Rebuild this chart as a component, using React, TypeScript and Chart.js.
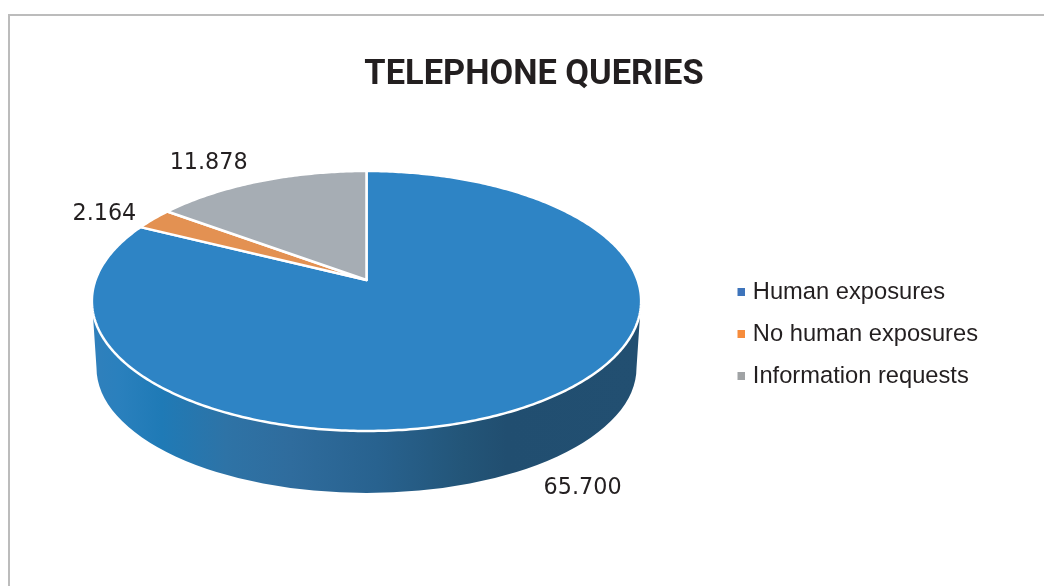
import React, { useEffect, useRef } from "react";
import { Chart, registerables } from "chart.js";

Chart.register(...registerables);

const categories = ["Human exposures", "No human exposures", "Information requests"];
const values = [65700, 2164, 11878];
const valueLabels = ["65.700", "2.164", "11.878"];
const sliceColors = ["#2e84c5", "#e39152", "#a6adb4"];
const legendColors = ["#3e74bb", "#f68c3c", "#a0a3a5"];
const labelOffsets = [[51, 83], [-49, -5], [-51, -18]];
const titleText = "TELEPHONE QUERIES";

const TEXT = "#231f20";
const FONT = "'Liberation Sans', sans-serif";
const VALUE_FONT = "'DejaVu Sans', sans-serif";

// Perspective disc: apex at (CX, CY), the image of a tilted circle
const CX = 366.5, CY = 280, R = 271, S = 126.6, K = 0.1615;
const project = (a: number) => {
  const X = Math.cos(a), Y = Math.sin(a), w = 1 - K * Y;
  return [CX + (R * X) / w, CY + (S * Y) / w];
};

const traceArc = (ctx: CanvasRenderingContext2D, a0: number, a1: number) => {
  const n = Math.max(8, Math.ceil((a1 - a0) * 80));
  for (let i = 0; i <= n; i++) {
    const [x, y] = project(a0 + ((a1 - a0) * i) / n);
    ctx.lineTo(x, y);
  }
};

const perspectivePie = {
  id: "perspectivePie",
  beforeDatasetDraw(chart: any, args: any) {
    const { ctx } = chart;
    const arcs = chart.getDatasetMeta(args.index).data;

    // Wall of the disc
    const g = ctx.createLinearGradient(97, 0, 636, 0);
    g.addColorStop(0, "#2f80bc");
    g.addColorStop(0.04, "#2a80bd");
    g.addColorStop(0.12, "#1f7ab6");
    g.addColorStop(0.24, "#2e73a6");
    g.addColorStop(0.36, "#2f6c9d");
    g.addColorStop(0.52, "#28628f");
    g.addColorStop(0.68, "#235578");
    g.addColorStop(0.76, "#214e70");
    g.addColorStop(1, "#224f71");
    ctx.save();
    ctx.beginPath();
    ctx.moveTo(92, 301);
    ctx.lineTo(96.5, 368);
    ctx.ellipse(366.5, 368, 270, 125, 0, Math.PI, 0, true);
    ctx.lineTo(641, 301);
    ctx.closePath();
    ctx.fillStyle = g;
    ctx.fill();

    // Top face, one wedge per arc element
    arcs.forEach((arc: any, i: number) => {
      ctx.beginPath();
      ctx.moveTo(CX, CY);
      traceArc(ctx, arc.startAngle, arc.endAngle);
      ctx.closePath();
      ctx.fillStyle = sliceColors[i];
      ctx.fill();
      ctx.strokeStyle = "#ffffff";
      ctx.lineWidth = 2.5;
      ctx.lineJoin = "round";
      ctx.stroke();
    });

    // Value labels
    ctx.fillStyle = TEXT;
    ctx.font = `22.3px ${VALUE_FONT}`;
    ctx.textAlign = "center";
    ctx.textBaseline = "middle";
    arcs.forEach((arc: any, i: number) => {
      const [x, y] = project((arc.startAngle + arc.endAngle) / 2);
      ctx.fillText(valueLabels[i], x + labelOffsets[i][0], y + labelOffsets[i][1]);
    });
    ctx.restore();
    return false;
  },
};

const swatch = (color: string) => {
  const c = document.createElement("canvas");
  c.width = 10;
  c.height = 8;
  const x = c.getContext("2d")!;
  x.fillStyle = color;
  x.fillRect(2, 0, 8, 8);
  return c;
};

export default function App() {
  const ref = useRef<HTMLCanvasElement>(null);
  useEffect(() => {
    document.body.style.margin = "0";
    document.body.style.overflow = "hidden";
    const chart = new Chart(ref.current!, {
      type: "pie",
      data: {
        labels: categories,
        datasets: [{ data: values, backgroundColor: sliceColors, borderWidth: 0 }],
      },
      plugins: [perspectivePie],
      options: {
        responsive: false,
        animation: false,
        layout: { padding: { left: 80, right: 56, bottom: 24, top: 0 } },
        plugins: {
          tooltip: { enabled: false },
          title: {
            display: true,
            text: titleText,
            color: TEXT,
            font: { family: "Roboto, " + FONT, size: 34.4, weight: "bold" },
            padding: { top: 55, bottom: 10 },
          },
          legend: {
            position: "right",
            fullSize: false,
            labels: {
              color: TEXT,
              font: { family: FONT, size: 23.7 },
              padding: 18.3,
              boxWidth: 1,
              usePointStyle: true,
              generateLabels: () =>
                categories.map((text, i) => ({
                  text,
                  fontColor: TEXT,
                  pointStyle: swatch(legendColors[i]) as any,
                  fillStyle: legendColors[i],
                  strokeStyle: legendColors[i],
                  lineWidth: 0,
                  hidden: false,
                  index: i,
                })),
            },
          },
        },
      },
    } as any);
    return () => chart.destroy();
  }, []);
  return (
    <div style={{ position: "fixed", inset: 0, overflow: "hidden", background: "#fff" }}>
      <div
        style={{
          position: "absolute",
          left: 8,
          top: 14,
          width: 1100,
          height: 700,
          borderLeft: "2px solid #bcbcbc",
          borderTop: "2px solid #bcbcbc",
        }}
      />
      <canvas
        ref={ref}
        width={1044}
        height={586}
        style={{ position: "absolute", left: 0, top: 0, display: "block" }}
      />
    </div>
  );
}
